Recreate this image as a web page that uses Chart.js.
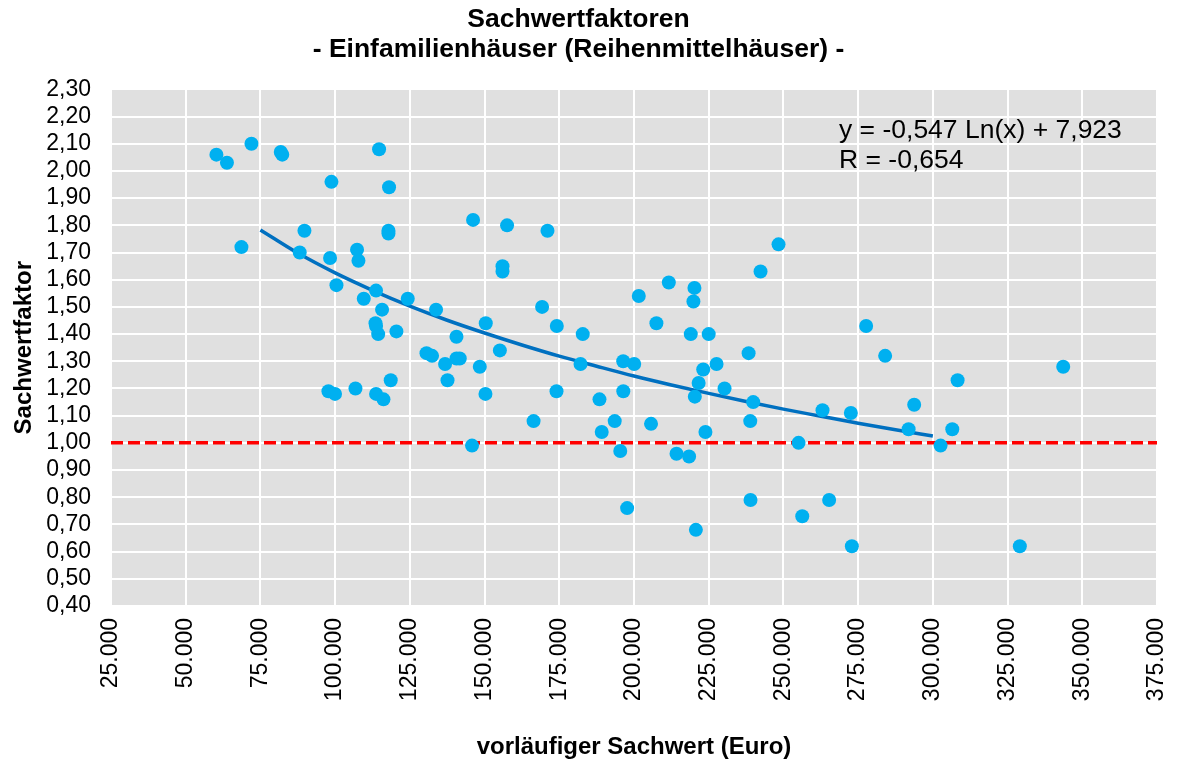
<!DOCTYPE html>
<html><head><meta charset="utf-8">
<script src="https://cdn.jsdelivr.net/npm/chart.js@4.4.1/dist/chart.umd.min.js"></script>
<style>html,body{margin:0;padding:0;background:#fff;}#wrap{width:1181px;height:766px;}</style>
</head><body><div id="wrap"><canvas id="c" width="1181" height="766"></canvas></div>
<script>
const titleLines = ['Sachwertfaktoren', '- Einfamilienhäuser (Reihenmittelhäuser) -'];
const xAxisTitle = 'vorläufiger Sachwert (Euro)';
const yAxisTitle = 'Sachwertfaktor';
const equationLines = ['y = -0,547 Ln(x) + 7,923', 'R = -0,654'];

const sachwert = [60270, 63800, 72000, 81800, 82300, 98760, 114700, 118040, 146150, 68640,
  89730, 88150, 117840, 117840, 98300, 107330, 107800, 100440, 113690, 109570,
  124300, 115700, 133770, 113500, 113700, 114400, 120500, 150400, 140600, 130560,
  132430, 136780, 140600, 141700, 137600, 148400, 150300, 145800, 97750, 99960,
  106800, 113700, 116170, 118600, 157530, 171050, 156000, 156000, 211650, 220220,
  219880, 201600, 248360, 242340, 169250, 174170, 155120, 182850, 207500, 219000,
  225000, 182100, 196390, 200070, 227620, 223160, 221620, 238350, 230300, 220350,
  239890, 263080, 174070, 196420, 188450, 166400, 193550, 189200, 205700, 223900,
  238900, 195400, 214230, 218430, 255070, 197700, 238990, 220700, 256300, 265300,
  277680, 284040, 343620, 308280, 293750, 272560, 291880, 306500, 302580, 272900,
  329100];
const faktor = [2.06, 2.03, 2.10, 2.07, 2.06, 1.96, 2.08, 1.94, 1.82, 1.72,
  1.78, 1.70, 1.78, 1.77, 1.68, 1.71, 1.67, 1.58, 1.56, 1.53,
  1.53, 1.49, 1.49, 1.44, 1.43, 1.40, 1.41, 1.44, 1.39, 1.33,
  1.32, 1.29, 1.31, 1.31, 1.23, 1.28, 1.18, 0.99, 1.19, 1.18,
  1.20, 1.18, 1.16, 1.23, 1.80, 1.78, 1.65, 1.63, 1.59, 1.57,
  1.52, 1.54, 1.73, 1.63, 1.50, 1.43, 1.34, 1.40, 1.44, 1.40,
  1.40, 1.29, 1.30, 1.29, 1.29, 1.27, 1.22, 1.33, 1.20, 1.17,
  1.15, 1.12, 1.19, 1.19, 1.16, 1.08, 1.08, 1.04, 1.07, 1.04,
  1.08, 0.97, 0.96, 0.95, 1.00, 0.76, 0.79, 0.68, 0.73, 0.79,
  1.43, 1.32, 1.28, 1.23, 1.14, 1.11, 1.05, 1.05, 0.99, 0.62,
  0.62];

const trendSachwert = [75000, 87500, 100000, 112500, 125000, 137500, 150000, 162500, 175000, 187500,
  200000, 212500, 225000, 237500, 250000, 262500, 275000, 287500, 300000];
const trendFaktor = [1.783, 1.698, 1.625, 1.561, 1.503, 1.451, 1.404, 1.360, 1.319, 1.282,
  1.246, 1.213, 1.182, 1.152, 1.124, 1.098, 1.072, 1.048, 1.025];

const referenceX = [25000, 375000];
const referenceY = [1.0, 1.0];

const xTickValues = [25000, 50000, 75000, 100000, 125000, 150000, 175000, 200000, 225000, 250000, 275000, 300000, 325000, 350000, 375000];
const yTickValues = [0.4, 0.5, 0.6, 0.7, 0.8, 0.9, 1.0, 1.1, 1.2, 1.3, 1.4, 1.5, 1.6, 1.7, 1.8, 1.9, 2.0, 2.1, 2.2, 2.3];

const FONT = "'Liberation Sans', Arial, sans-serif";

function fmtThousands(v) {
  return String(Math.round(v)).replace(/\B(?=(\d{3})+(?!\d))/g, '.');
}
function fmtDec(v) {
  return Number(v).toFixed(2).replace('.', ',');
}

const bgPlugin = {
  id: 'plotBg',
  beforeDraw(chart) {
    const a = chart.chartArea, ctx = chart.ctx;
    ctx.save();
    ctx.fillStyle = '#E0E0E0';
    ctx.fillRect(a.left, a.top, a.right - a.left, a.bottom - a.top);
    ctx.restore();
  }
};
const eqPlugin = {
  id: 'equation',
  afterDatasetsDraw(chart) {
    const ctx = chart.ctx;
    ctx.save();
    ctx.fillStyle = '#000';
    ctx.font = '26.5px ' + FONT;
    ctx.textBaseline = 'alphabetic';
    ctx.textAlign = 'left';
    const a = chart.chartArea;
    ctx.fillText(equationLines[0], a.left + 728, a.top + 49);
    ctx.fillText(equationLines[1], a.left + 728, a.top + 79);
    ctx.restore();
  }
};

Chart.defaults.font.family = FONT;
Chart.defaults.color = '#000';

new Chart(document.getElementById('c'), {
  type: 'scatter',
  data: {
    datasets: [
      {
        label: 'Sachwertfaktor',
        data: sachwert.map((x, i) => ({ x: x, y: faktor[i] })),
        backgroundColor: '#00B0F0',
        borderWidth: 0,
        pointRadius: 7,
        order: 0
      },
      {
        type: 'line',
        label: 'Trend',
        data: trendSachwert.map((x, i) => ({ x: x, y: trendFaktor[i] })),
        borderColor: '#0070C0',
        borderWidth: 3.5,
        pointRadius: 0,
        fill: false,
        cubicInterpolationMode: 'monotone',
        order: 1
      },
      {
        type: 'line',
        label: 'Referenz',
        data: referenceX.map((x, i) => ({ x: x, y: referenceY[i] })),
        borderColor: '#FF0000',
        borderWidth: 3.5,
        borderDash: [12, 5],
        pointRadius: 0,
        fill: false,
        order: 2
      }
    ]
  },
  options: {
    responsive: false,
    animation: false,
    devicePixelRatio: 1,
    layout: { padding: { left: 0, right: 24, top: 0, bottom: 0 } },
    plugins: {
      legend: { display: false },
      tooltip: { enabled: false },
      title: {
        display: true,
        text: titleLines,
        color: '#000',
        font: { family: FONT, size: 26.5, weight: 'bold', lineHeight: 1.13 },
        padding: { top: 5, bottom: 24.5 }
      }
    },
    scales: {
      x: {
        type: 'linear',
        min: xTickValues[0],
        max: xTickValues[xTickValues.length - 1],
        afterBuildTicks(scale) { scale.ticks = xTickValues.map(v => ({ value: v })); },
        ticks: {
          autoSkip: false, minRotation: 90, maxRotation: 90, padding: 12,
          color: '#000', font: { family: FONT, size: 23 },
          callback: v => fmtThousands(v)
        },
        grid: { color: '#FFFFFF', lineWidth: 2, drawTicks: false },
        border: { display: false },
        title: {
          display: true, text: xAxisTitle, color: '#000',
          font: { family: FONT, size: 24, weight: 'bold' },
          padding: { top: 0, bottom: 4 }
        },
        afterFit(scale) { scale.height = 160; scale.paddingRight = 0; scale.paddingLeft = 0; }
      },
      y: {
        type: 'linear',
        min: yTickValues[0],
        max: yTickValues[yTickValues.length - 1],
        afterBuildTicks(scale) { scale.ticks = yTickValues.map(v => ({ value: v })); },
        ticks: {
          autoSkip: false, padding: 20,
          color: '#000', font: { family: FONT, size: 23 },
          callback: v => fmtDec(v)
        },
        grid: { color: '#FFFFFF', lineWidth: 2, drawTicks: false },
        border: { display: false },
        title: {
          display: true, text: yAxisTitle, color: '#000',
          font: { family: FONT, size: 24, weight: 'bold' },
          padding: { top: 10, bottom: 0 }
        },
        afterFit(scale) { scale.width = 111; }
      }
    }
  },
  plugins: [bgPlugin, eqPlugin]
});
</script>
</body></html>
